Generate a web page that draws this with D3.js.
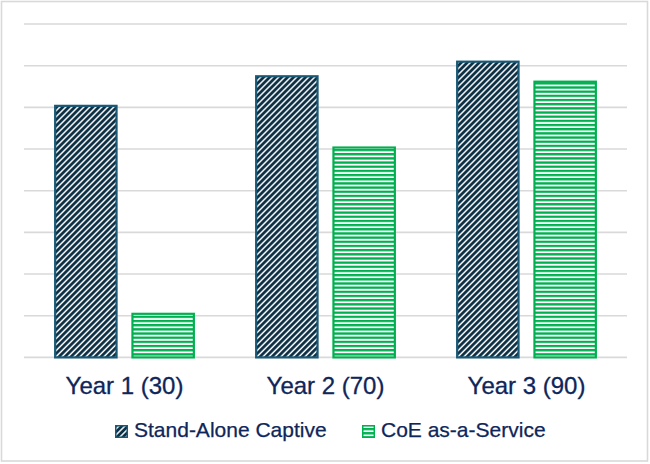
<!DOCTYPE html>
<html>
<head>
<meta charset="utf-8">
<script src="https://cdn.jsdelivr.net/npm/d3@7"></script>
<style>
  html, body { margin: 0; padding: 0; background: #fff; }
  svg { display: block; }
</style>
</head>
<body>
<div id="chart"></div>
<script>
// chart data
const categories = ['Year 1 (30)', 'Year 2 (70)', 'Year 3 (90)'];
const seriesNames = ['Stand-Alone Captive', 'CoE as-a-Service'];
const standAlone = [6.06, 6.77, 7.12];
const coeService = [1.07, 5.06, 6.64];
const gridTicks = [0, 1, 2, 3, 4, 5, 6, 7, 8];

const width = 650;
const height = 464;
const plot = { left: 24, right: 627, top: 24, bottom: 357.4 };
const textColor = '#0e2659';

const svg = d3.select('#chart').append('svg')
    .attr('width', width)
    .attr('height', height);

// patterns for the two series
const defs = svg.append('defs');

const diag = defs.append('pattern')
    .attr('id', 'pat-diag')
    .attr('patternUnits', 'userSpaceOnUse')
    .attr('width', 4.24)
    .attr('height', 4.24)
    .attr('patternTransform', 'rotate(45)');
diag.append('rect').attr('width', 4.24).attr('height', 4.24).attr('fill', '#fff');
diag.append('rect').attr('width', 2.8).attr('height', 4.24).attr('fill', '#0d2f44');

const horiz = defs.append('pattern')
    .attr('id', 'pat-horiz')
    .attr('patternUnits', 'userSpaceOnUse')
    .attr('width', 8)
    .attr('height', 4.17)
    .attr('y', plot.bottom);
horiz.append('rect').attr('width', 8).attr('height', 4.17).attr('fill', '#fff');
horiz.append('rect').attr('width', 8).attr('height', 2.3).attr('fill', '#00b050');

const seriesStyle = [
    { fill: 'url(#pat-diag)', stroke: '#1a5976' },
    { fill: 'url(#pat-horiz)', stroke: '#00b050' }
];

// outer frame
svg.append('rect')
    .attr('x', 1.5).attr('y', 1.5)
    .attr('width', 646).attr('height', 459.5)
    .attr('fill', '#fff')
    .attr('stroke', '#d9d9d9')
    .attr('stroke-width', 1.6);

const x0 = d3.scaleBand()
    .domain(categories)
    .range([plot.left, plot.right])
    .padding(0);

const groupPad = x0.step() * 0.15;
const x1 = d3.scaleBand()
    .domain(seriesNames)
    .range([groupPad, x0.step() - groupPad])
    .paddingInner(0.18)
    .paddingOuter(0);

const y = d3.scaleLinear()
    .domain([0, 8])
    .range([plot.bottom, plot.top]);

// gridlines
svg.append('g')
    .attr('class', 'grid')
    .selectAll('line')
    .data(gridTicks)
    .join('line')
    .attr('x1', plot.left)
    .attr('x2', plot.right)
    .attr('y1', d => y(d))
    .attr('y2', d => y(d))
    .attr('stroke', '#d9d9d9')
    .attr('stroke-width', 1.6);

// bars
const rows = categories.map((c, i) => ({
    cat: c,
    values: [
        { key: seriesNames[0], idx: 0, value: standAlone[i] },
        { key: seriesNames[1], idx: 1, value: coeService[i] }
    ]
}));

const groups = svg.append('g')
    .attr('class', 'bars')
    .selectAll('g')
    .data(rows)
    .join('g')
    .attr('transform', d => `translate(${x0(d.cat)},0)`);

groups.selectAll('rect')
    .data(d => d.values)
    .join('rect')
    .attr('x', d => x1(d.key) + 1)
    .attr('y', d => y(d.value) + 1)
    .attr('width', x1.bandwidth() - 2)
    .attr('height', d => plot.bottom - y(d.value) - 1)
    .attr('fill', d => seriesStyle[d.idx].fill)
    .attr('stroke', d => seriesStyle[d.idx].stroke)
    .attr('stroke-width', 2.2);

// category labels
const xAxis = svg.append('g')
    .attr('transform', `translate(0,${plot.bottom})`)
    .call(d3.axisBottom(x0).tickSize(0).tickPadding(0));
xAxis.select('.domain').remove();
xAxis.selectAll('text')
    .attr('dy', null)
    .attr('y', 37)
    .attr('fill', textColor)
    .attr('font-family', '"Liberation Sans", Arial, sans-serif')
    .attr('font-size', 24)
    .attr('stroke', textColor)
    .attr('stroke-width', 0.3);

// legend
const legendItems = [
    { name: seriesNames[0], x: 115 },
    { name: seriesNames[1], x: 362 }
];
const legend = svg.append('g')
    .selectAll('g')
    .data(legendItems)
    .join('g')
    .attr('transform', d => `translate(${d.x},425)`);

legend.append('rect')
    .attr('x', 0.75).attr('y', 0.75)
    .attr('width', 11.5).attr('height', 11.5)
    .attr('fill', (d, i) => seriesStyle[i].fill)
    .attr('stroke', (d, i) => seriesStyle[i].stroke)
    .attr('stroke-width', 1.5);

legend.append('text')
    .attr('x', 19)
    .attr('y', 11.5)
    .attr('fill', textColor)
    .attr('font-family', '"Liberation Sans", Arial, sans-serif')
    .attr('font-size', 21)
    .attr('stroke', textColor)
    .attr('stroke-width', 0.25)
    .text(d => d.name);
</script>
</body>
</html>
